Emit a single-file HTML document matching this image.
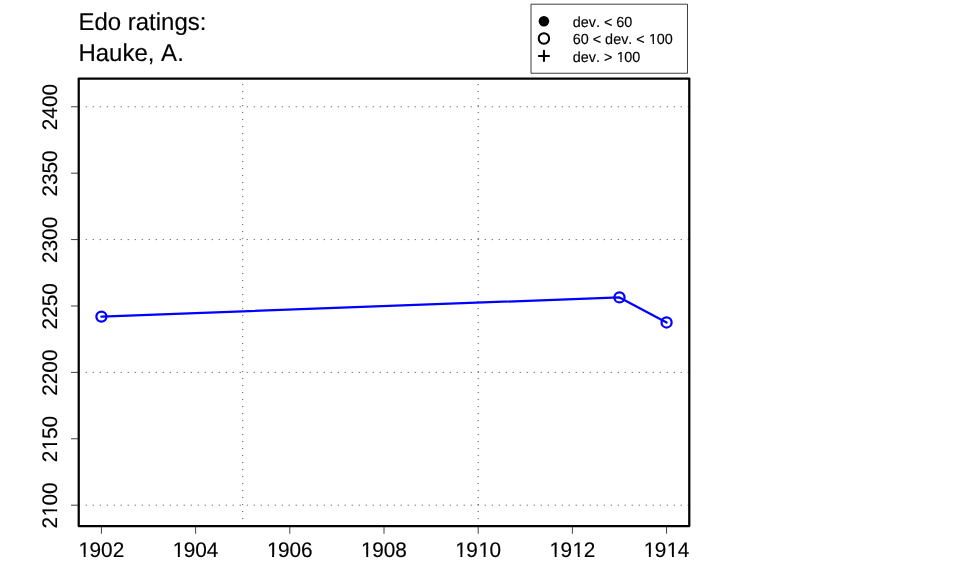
<!DOCTYPE html>
<html lang="en"><head><meta charset="utf-8"><title>Edo ratings: Hauke, A.</title>
<style>html,body{margin:0;padding:0;background:#fff;overflow:hidden}svg{display:block}text{font-family:"Liberation Sans",sans-serif;fill:#000;stroke:#000;stroke-width:0.14px;stroke-linejoin:round;text-rendering:geometricPrecision;font-kerning:none;font-variant-ligatures:none;white-space:pre}</style>
</head><body>
<svg width="960" height="576" viewBox="0 0 960 576">
<rect x="0" y="0" width="960" height="576" fill="#fff"/>
<g stroke="#000000" stroke-width="0.75" stroke-dasharray="1 6" fill="none">
<line x1="78.72" y1="505.18" x2="689.28" y2="505.18"/>
<line x1="78.72" y1="372.38" x2="689.28" y2="372.38"/>
<line x1="78.72" y1="239.58" x2="689.28" y2="239.58"/>
<line x1="78.72" y1="106.78" x2="689.28" y2="106.78"/>
<line x1="242.71" y1="526.08" x2="242.71" y2="78.72"/>
<line x1="478.19" y1="526.08" x2="478.19" y2="78.72"/>
</g>
<polyline points="101.42,316.60 619.48,297.40 666.58,322.45" fill="none" stroke="#0000ff" stroke-width="2.25" stroke-linecap="round" stroke-linejoin="round"/>
<circle cx="101.42" cy="316.60" r="5.05" fill="none" stroke="#0000ff" stroke-width="2.25"/>
<circle cx="619.48" cy="297.40" r="5.05" fill="none" stroke="#0000ff" stroke-width="2.25"/>
<circle cx="666.58" cy="322.45" r="5.05" fill="none" stroke="#0000ff" stroke-width="2.25"/>
<g stroke="#000" stroke-width="0.75" fill="none">
<line x1="101.42" y1="526.08" x2="101.42" y2="533.76"/>
<line x1="195.61" y1="526.08" x2="195.61" y2="533.76"/>
<line x1="289.81" y1="526.08" x2="289.81" y2="533.76"/>
<line x1="384.00" y1="526.08" x2="384.00" y2="533.76"/>
<line x1="478.19" y1="526.08" x2="478.19" y2="533.76"/>
<line x1="572.39" y1="526.08" x2="572.39" y2="533.76"/>
<line x1="666.58" y1="526.08" x2="666.58" y2="533.76"/>
<line x1="78.72" y1="505.18" x2="71.04" y2="505.18"/>
<line x1="78.72" y1="438.78" x2="71.04" y2="438.78"/>
<line x1="78.72" y1="372.38" x2="71.04" y2="372.38"/>
<line x1="78.72" y1="305.98" x2="71.04" y2="305.98"/>
<line x1="78.72" y1="239.58" x2="71.04" y2="239.58"/>
<line x1="78.72" y1="173.18" x2="71.04" y2="173.18"/>
<line x1="78.72" y1="106.78" x2="71.04" y2="106.78"/>
</g>
<rect x="78.72" y="78.72" width="610.56" height="447.36" fill="none" stroke="#000" stroke-width="2.25" stroke-linejoin="round"/>
<g font-size="20.8px">
<g transform="translate(101.12 557) scale(1 1.015)"><text x="-22.63 -11.57 0 11.57" y="0">1902</text><g fill="#fff"><rect x="-22.04" y="-2.44" width="4.58" height="3.43"/><rect x="-15.49" y="-2.44" width="4.41" height="3.43"/></g></g>
<g transform="translate(195.31 557) scale(1 1.015)"><text x="-22.63 -11.57 0 11.57" y="0">1904</text><g fill="#fff"><rect x="-22.04" y="-2.44" width="4.58" height="3.43"/><rect x="-15.49" y="-2.44" width="4.41" height="3.43"/></g></g>
<g transform="translate(289.51 557) scale(1 1.015)"><text x="-22.63 -11.57 0 11.57" y="0">1906</text><g fill="#fff"><rect x="-22.04" y="-2.44" width="4.58" height="3.43"/><rect x="-15.49" y="-2.44" width="4.41" height="3.43"/></g></g>
<g transform="translate(383.7 557) scale(1 1.015)"><text x="-22.63 -11.57 0 11.57" y="0">1908</text><g fill="#fff"><rect x="-22.04" y="-2.44" width="4.58" height="3.43"/><rect x="-15.49" y="-2.44" width="4.41" height="3.43"/></g></g>
<g transform="translate(477.89 557) scale(1 1.015)"><text x="-22.63 -11.57 0.51 11.57" y="0">1910</text><g fill="#fff"><rect x="-22.04" y="-2.44" width="4.58" height="3.43"/><rect x="-15.49" y="-2.44" width="4.41" height="3.43"/><rect x="1.09" y="-2.44" width="4.58" height="3.43"/><rect x="7.65" y="-2.44" width="4.41" height="3.43"/></g></g>
<g transform="translate(572.09 557) scale(1 1.015)"><text x="-22.63 -11.57 0.51 11.57" y="0">1912</text><g fill="#fff"><rect x="-22.04" y="-2.44" width="4.58" height="3.43"/><rect x="-15.49" y="-2.44" width="4.41" height="3.43"/><rect x="1.09" y="-2.44" width="4.58" height="3.43"/><rect x="7.65" y="-2.44" width="4.41" height="3.43"/></g></g>
<g transform="translate(666.28 557) scale(1 1.015)"><text x="-22.63 -11.57 0.51 11.57" y="0">1914</text><g fill="#fff"><rect x="-22.04" y="-2.44" width="4.58" height="3.43"/><rect x="-15.49" y="-2.44" width="4.41" height="3.43"/><rect x="1.09" y="-2.44" width="4.58" height="3.43"/><rect x="7.65" y="-2.44" width="4.41" height="3.43"/></g></g>
<g transform="translate(56.6 505.48) rotate(-90) scale(1 1.015)"><text x="-23.14 -11.06 0 11.57" y="0">2100</text><g fill="#fff"><rect x="-10.48" y="-2.44" width="4.58" height="3.43"/><rect x="-3.92" y="-2.44" width="4.41" height="3.43"/></g></g>
<g transform="translate(56.6 439.08) rotate(-90) scale(1 1.015)"><text x="-23.14 -11.06 0 11.57" y="0">2150</text><g fill="#fff"><rect x="-10.48" y="-2.44" width="4.58" height="3.43"/><rect x="-3.92" y="-2.44" width="4.41" height="3.43"/></g></g>
<g transform="translate(56.6 372.68) rotate(-90) scale(1 1.015)"><text x="-23.14 -11.57 0 11.57" y="0">2200</text></g>
<g transform="translate(56.6 306.28) rotate(-90) scale(1 1.015)"><text x="-23.14 -11.57 0 11.57" y="0">2250</text></g>
<g transform="translate(56.6 239.88) rotate(-90) scale(1 1.015)"><text x="-23.14 -11.57 0 11.57" y="0">2300</text></g>
<g transform="translate(56.6 173.48) rotate(-90) scale(1 1.015)"><text x="-23.14 -11.57 0 11.57" y="0">2350</text></g>
<g transform="translate(56.6 107.08) rotate(-90) scale(1 1.015)"><text x="-23.14 -11.57 0 11.57" y="0">2400</text></g>
</g>
<g font-size="24px">
<g transform="translate(78.42 30) scale(1 1.015)"><text x="0 16.01 29.36 42.7 49.37 57.36 70.71 77.38 82.71 96.06 109.41 121.41" y="0">Edo ratings:</text></g>
<g transform="translate(78.42 61) scale(1 1.015)"><text x="0 17.33 30.68 44.03 56.03 69.38 76.04 82.71 98.72" y="0">Hauke, A.</text></g>
</g>
<rect x="531.0" y="4.2" width="156.5" height="69.04" fill="#fff" stroke="#000" stroke-width="0.75" stroke-linejoin="round"/>
<circle cx="543.92" cy="21.25" r="5.25" fill="#000"/>
<circle cx="543.92" cy="38.5" r="5.2" fill="none" stroke="#000" stroke-width="2.05"/>
<path d="M538.85 55.9H549.05M543.95 50.8V61" fill="none" stroke="#000" stroke-width="2.05" stroke-linecap="round"/>
<g font-size="14.4px">
<g transform="translate(572.7 27) scale(1 1.015)"><text x="0 8.01 16.02 23.22 27.22 31.22 39.63 43.63 51.64" y="0">dev. &lt; 60</text></g>
<g transform="translate(572.7 44) scale(1 1.015)"><text x="0 8.01 16.02 20.02 28.43 32.43 40.44 48.45 55.65 59.65 63.65 72.06 76.41 84.07 92.07" y="0">60 &lt; dev. &lt; 100</text><g fill="#fff"><rect x="76.51" y="-1.96" width="3.45" height="2.95"/><rect x="81.37" y="-1.96" width="3.34" height="2.95"/></g></g>
<g transform="translate(572.7 62) scale(1 1.015)"><text x="0 8.01 16.02 23.22 27.22 31.22 39.63 43.98 51.64 59.65" y="0">dev. &gt; 100</text><g fill="#fff"><rect x="44.08" y="-1.96" width="3.45" height="2.95"/><rect x="48.94" y="-1.96" width="3.34" height="2.95"/></g></g>
</g>
</svg>
</body></html>
